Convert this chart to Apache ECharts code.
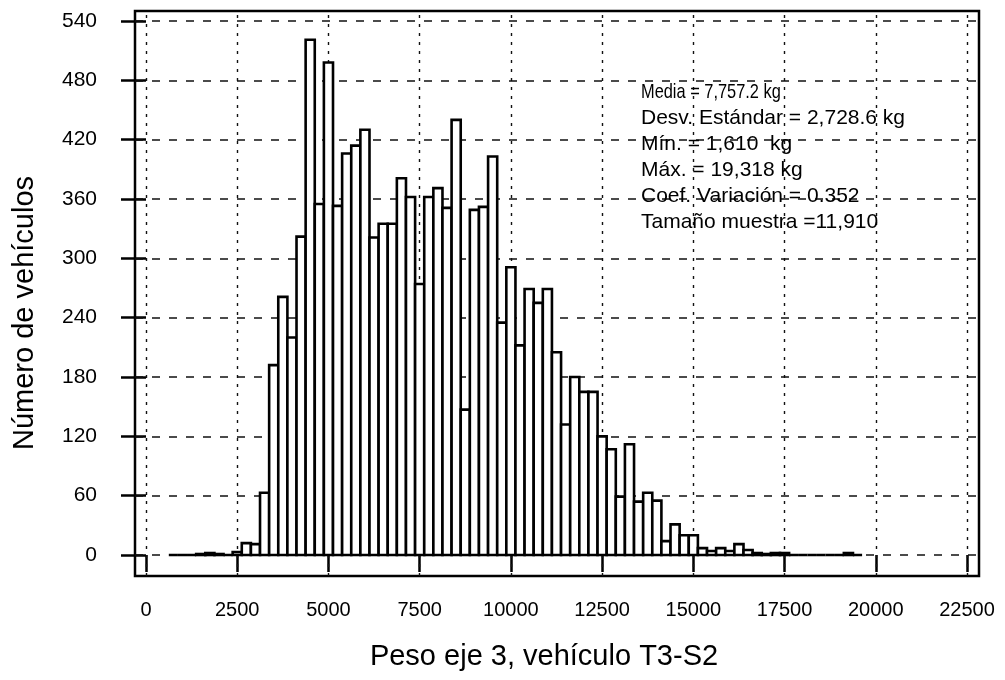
<!DOCTYPE html>
<html><head><meta charset="utf-8">
<script src="https://cdn.jsdelivr.net/npm/echarts@6/dist/echarts.min.js"></script>
<style>html,body{margin:0;padding:0;background:#fff}#c{width:1005px;height:680px}</style>
</head><body><div id="c"></div>
<script>
// ---- data ----
const binCenters = [750,1000,1250,1500,1750,2000,2250,2500,2750,3000,3250,3500,3750,4000,4250,4500,4750,5000,5250,5500,5750,6000,6250,6500,6750,7000,7250,7500,7750,8000,8250,8500,8750,9000,9250,9500,9750,10000,10250,10500,10750,11000,11250,11500,11750,12000,12250,12500,12750,13000,13250,13500,13750,14000,14250,14500,14750,15000,15250,15500,15750,16000,16250,16500,16750,17000,17250,17500,17750,18000,18250,18500,18750,19000,19250,19500];
const counts = [0,0,0,1,2,1,0,3,12,11,63,192,261,220,322,521,355,498,353,406,414,430,321,335,335,381,362,274,362,371,351,440,147,349,352,403,235,291,212,269,255,269,205,132,180,165,165,120,107,59,112,54,63,55,14,31,20,20,7,4,7,4,11,5,2,1,2,2,0,0,0,0,0,0,2,0];
const xTicks = [0,2500,5000,7500,10000,12500,15000,17500,20000,22500];
const yTicks = [0,60,120,180,240,300,360,420,480,540];
const binWidth = 250;
const statsLines = ['Media = 7,757.2 kg','Desv. Estándar = 2,728.6 kg','Mín. = 1,610  kg','Máx. = 19,318 kg','Coef. Variación = 0.352','Tamaño muestra =11,910'];
const xTitle = 'Peso eje 3, vehículo T3-S2';
const yTitle = 'Número de vehículos';

// ---- layout ----
const W = 1005, H = 680;
const plotL = 146, plotR = 967, plotT = 21, plotB = 555;
const frameL = 135, frameR = 979, frameT = 11, frameB = 576;
const xMin = xTicks[0], xMax = xTicks[xTicks.length-1];
const yMin = yTicks[0], yMax = yTicks[yTicks.length-1];
const kx = (plotR - plotL) / (xMax - xMin), ky = (plotB - plotT) / (yMax - yMin);
const fxMin = xMin - (plotL - frameL) / kx, fxMax = xMax + (frameR - plotR) / kx;
const fyMin = yMin - (frameB - plotB) / ky, fyMax = yMax + (plotT - frameT) / ky;
const FONT = '"Liberation Sans", Arial, Helvetica, sans-serif';
const statsScaleX = [0.78, 1, 1, 1, 1, 1];

const chart = echarts.init(document.getElementById('c'), null, {renderer: 'canvas'});
const markData = [];
xTicks.forEach(v => markData.push({xAxis: v, lineStyle: {type: [3, 6], width: 1.4, color: '#111'}}));
yTicks.forEach(v => markData.push({yAxis: v, lineStyle: {type: [8, 9], width: 1.7, color: '#111'}}));

chart.setOption({
  animation: false,
  backgroundColor: '#fff',
  grid: [
    {left: plotL, right: W - plotR, top: plotT, bottom: H - plotB},
    {left: frameL, right: W - frameR, top: frameT, bottom: H - frameB, show: true, borderColor: '#000', borderWidth: 2.5, backgroundColor: 'transparent'}
  ],
  xAxis: [
    {gridIndex: 0, type: 'value', min: xMin, max: xMax, interval: 2500, position: 'bottom', offset: frameB - plotB,
     axisLine: {show: false}, axisTick: {show: true, length: 17, lineStyle: {color: '#000', width: 2.5}},
     axisLabel: {color: '#000', fontSize: 20, fontFamily: FONT, margin: 24, showMinLabel: true, showMaxLabel: true, formatter: v => String(v)},
     splitLine: {show: false}},
    {gridIndex: 1, type: 'value', min: fxMin, max: fxMax, show: false, splitLine: {show: false}}
  ],
  yAxis: [
    {gridIndex: 0, type: 'value', min: yMin, max: yMax, interval: 60, offset: plotL - frameL,
     axisLine: {show: false}, axisTick: {show: true, length: 25, lineStyle: {color: '#000', width: 2.5}},
     axisLabel: {color: '#000', fontSize: 21, fontFamily: FONT, margin: 38, showMinLabel: true, showMaxLabel: true, formatter: v => String(v)},
     splitLine: {show: false}},
    {gridIndex: 1, type: 'value', min: fyMin, max: fyMax, show: false, splitLine: {show: false}}
  ],
  series: [
    {type: 'line', xAxisIndex: 1, yAxisIndex: 1, data: [], z: 1, silent: true,
     markLine: {silent: true, symbol: ['none', 'none'], label: {show: false}, animation: false, data: markData}},
    {type: 'custom', xAxisIndex: 0, yAxisIndex: 0, z: 5, silent: true,
     data: binCenters.map((c, i) => [c, counts[i]]),
     encode: {x: 0, y: 1},
     renderItem: function (params, api) {
       const c = api.value(0), v = api.value(1);
       const p0 = api.coord([c - binWidth / 2, 0]);
       const p1 = api.coord([c + binWidth / 2, v]);
       return {type: 'rect',
         shape: {x: p0[0], y: p1[1], width: p1[0] - p0[0], height: p0[1] - p1[1]},
         style: {fill: '#fff', stroke: '#000', lineWidth: 2.6}};
     }}
  ],
  graphic: [
    {type: 'text', x: 25, y: 313, rotation: Math.PI / 2, z: 10,
     style: {text: yTitle, fontSize: 29, fontFamily: FONT, fill: '#000', align: 'center', verticalAlign: 'middle', textAlign: 'center', textVerticalAlign: 'middle'}},
    {type: 'text', x: 544, y: 657, z: 10,
     style: {text: xTitle, fontSize: 29, fontFamily: FONT, fill: '#000', align: 'center', verticalAlign: 'middle', textAlign: 'center', textVerticalAlign: 'middle'}}
  ].concat(statsLines.map((t, i) => ({
    type: 'text', x: 641, y: 92 + i * 26, z: 10, scaleX: statsScaleX[i], scaleY: 1,
    style: {text: t, fontSize: 21, fontFamily: FONT, fill: '#000', align: 'left', verticalAlign: 'middle', textAlign: 'left', textVerticalAlign: 'middle'}
  })))
});
</script></body></html>
